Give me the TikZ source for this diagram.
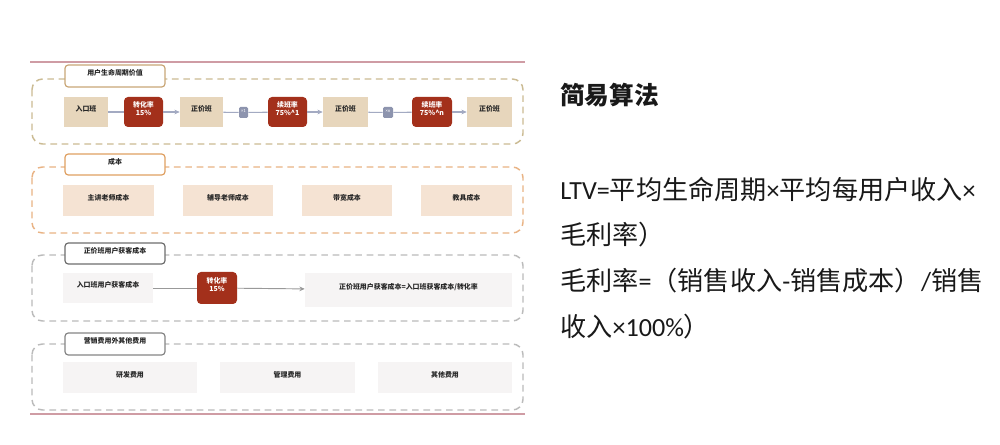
\documentclass[tikz,border=0pt]{standalone}
\usepackage{fontspec}
\newfontfamily\cjk{Noto Sans CJK SC}
\newfontfamily\lat{Carlito}
\usetikzlibrary{fit,arrows.meta}
\definecolor{ruleC}{HTML}{CF9CA4}
\definecolor{khaki}{HTML}{CBBB93}
\definecolor{khakiL}{HTML}{C9A677}
\definecolor{orng}{HTML}{E9B384}
\definecolor{orngL}{HTML}{DFA062}
\definecolor{grayD}{HTML}{BBBBBB}
\definecolor{grayL3}{HTML}{6E6E6E}
\definecolor{grayL4}{HTML}{858585}
\definecolor{beige}{HTML}{E7D6BC}
\definecolor{dred}{HTML}{A3301B}
\definecolor{slate}{HTML}{8D94AE}
\definecolor{peach}{HTML}{F5E3D3}
\definecolor{pale}{HTML}{F6F4F4}
\definecolor{conn}{HTML}{A3AAC2}
\definecolor{conn3}{HTML}{999999}
\begin{document}
\begin{tikzpicture}[x=0.75pt,y=-0.75pt,
  frame/.style={dashed,dash pattern=on 5pt off 3.5pt,line width=1.1pt,rounded corners=8pt},
  labelbox/.style={draw,fill=white,line width=0.9pt,rounded corners=2.5pt,inner sep=0pt,font=\cjk\bfseries\fontsize{5.2}{6}\selectfont,text=black!85},
  box/.style={inner sep=0pt,font=\cjk\bfseries\fontsize{5.2}{6}\selectfont,text=black!85,align=center},
  beigebox/.style={box,fill=beige},
  redbox/.style={box,fill=dred,rounded corners=3pt,text=white},
  slatebox/.style={box,fill=slate,rounded corners=1pt,text=white,font=\lat\fontsize{3.5}{4}\selectfont},
  peachbox/.style={box,fill=peach},
  palebox/.style={box,fill=pale},
  ln/.style={draw=conn,line width=0.8pt},
  arr/.style={ln,-{Stealth[length=4pt,width=3.5pt]}},
  ln3/.style={draw=conn3,line width=0.7pt},
  arr3/.style={ln3,-{Stealth[length=4pt,width=3.5pt]}},
  rt/.style={anchor=west,inner sep=0pt,font=\cjk\fontsize{19.6}{21}\selectfont,text=black!90}
]
\useasboundingbox[fill=white] (0,0) rectangle (1000,445);

% horizontal rules
\coordinate (r1a) at (30,62); \coordinate (r1b) at (525,62);
\coordinate (r2a) at (30,414); \coordinate (r2b) at (525,414);
\draw[ruleC,line width=0.8pt] (r1a) -- (r1b);
\draw[ruleC,line width=0.9pt] (r2a) -- (r2b);

% ---------- section 1 ----------
\draw[frame,khaki] (32,79) rectangle (523,144);
\node[labelbox,draw=khakiL,fit={(65,65) (165,87)}] (l1) {用户生命周期价值};
\node[beigebox,fit={(64,97) (108,127)}] (a1) {入口班};
\node[redbox,fit={(124,97) (163,127)}] (a2) {转化率\\15\%};
\node[beigebox,fit={(180,97) (223,127)}] (a3) {正价班};
\node[slatebox,fit={(239,107) (248,118)}] (a4) {×1};
\node[redbox,fit={(268,97) (307,127)}] (a5) {续班率\\75\%\^{}1};
\node[beigebox,fit={(323,97) (368,127)}] (a6) {正价班};
\node[slatebox,fit={(383,107) (393,118)}] (a7) {×n};
\node[redbox,fit={(412,97) (452,127)}] (a8) {续班率\\75\%\^{}n};
\node[beigebox,fit={(467,97) (512,127)}] (a9) {正价班};
\draw[ln] (a1) -- (a2);
\draw[arr] (a2) -- (a3);
\draw[ln] (a3) -- (a4);
\draw[ln] (a4) -- (a5);
\draw[arr] (a5) -- (a6);
\draw[ln] (a6) -- (a7);
\draw[ln] (a7) -- (a8);
\draw[arr] (a8) -- (a9);

% ---------- section 2 ----------
\draw[frame,orng] (32,167) rectangle (523,233);
\node[labelbox,draw=orngL,fit={(65,154) (165,175)}] (l2) {成本};
\node[peachbox,fit={(63,185) (154,216)}] (b1) {主讲老师成本};
\node[peachbox,fit={(183,185) (273,216)}] (b2) {辅导老师成本};
\node[peachbox,fit={(302,185) (392,216)}] (b3) {带宽成本};
\node[peachbox,fit={(421,185) (512,216)}] (b4) {教具成本};

% ---------- section 3 ----------
\draw[frame,grayD] (32,255) rectangle (523,321);
\node[labelbox,draw=grayL3,fit={(65,243) (165,264)}] (l3) {正价班用户获客成本};
\node[palebox,fit={(63,273) (153,303)}] (c1) {入口班用户获客成本};
\node[redbox,fit={(197,272) (237,304)}] (c2) {转化率\\15\%};
\node[palebox,fit={(305,273) (512,307)}] (c3) {正价班用户获客成本=入口班获客成本/转化率};
\draw[ln3] (c1) -- (c2);
\draw[arr3] (c2) -- (c3);

% ---------- section 4 ----------
\draw[frame,grayD] (32,344) rectangle (523,410);
\node[labelbox,draw=grayL4,fit={(65,333) (165,355)}] (l4) {营销费用外其他费用};
\node[palebox,fit={(63,362) (197,393)}] (d1) {研发费用};
\node[palebox,fit={(220,362) (355,393)}] (d2) {管理费用};
\node[palebox,fit={(378,362) (512,393)}] (d3) {其他费用};

% ---------- right text ----------
\node[rt,font=\cjk\bfseries\fontsize{18.5}{20}\selectfont] (t0) at (560,95) {简易算法};
\node[rt] (t1) at (560,189) {{\lat LTV=}平均生命周期{\lat ×}平均每用户收入{\lat ×}};
\node[rt] (t2) at (560,235) {毛利率）};
\node[rt] (t3) at (560,281) {毛利率{\lat =}（销售收入{\lat -}销售成本）{\lat /}销售};
\node[rt] (t4) at (560,327) {收入{\lat ×100\%}）};
\end{tikzpicture}
\end{document}
